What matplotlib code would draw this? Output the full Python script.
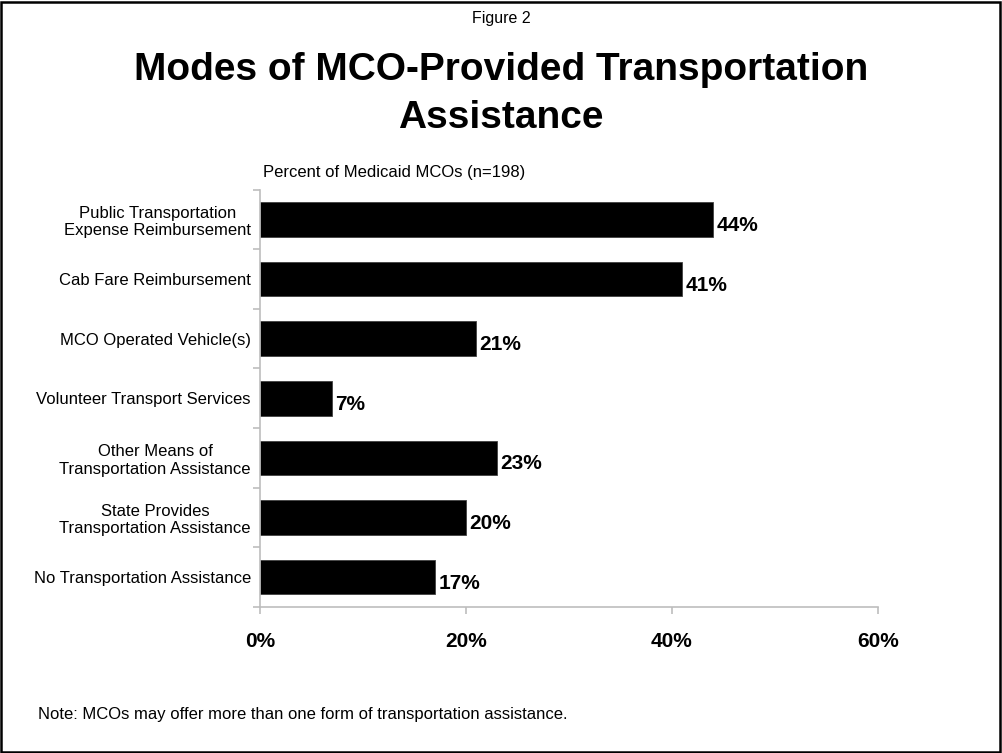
import matplotlib
matplotlib.use("Agg")
import matplotlib.pyplot as plt
from matplotlib.patches import Rectangle
import numpy as np

plt.rcParams['font.family'] = ['Liberation Sans', 'DejaVu Sans']

categories = [
    "Public Transportation\nExpense Reimbursement",
    "Cab Fare Reimbursement",
    "MCO Operated Vehicle(s)",
    "Volunteer Transport Services",
    "Other Means of\nTransportation Assistance",
    "State Provides\nTransportation Assistance",
    "No Transportation Assistance",
]
values = [44, 41, 21, 7, 23, 20, 17]
xticks = [0, 20, 40, 60]
xtick_labels = ["0%", "20%", "40%", "60%"]

fig = plt.figure(figsize=(10.02, 7.53), dpi=100)
ax = fig.add_axes([0.2595, 0.1939, 0.8762 - 0.2595, 0.7482 - 0.1939])

n = len(categories)
y = np.arange(n)
ax.barh(y, values, height=0.58, color="black", edgecolor="#404040", linewidth=0.6)
ax.set_ylim(n - 0.5, -0.5)
ax.set_xlim(0, 60)

for yi, v in zip(y, values):
    ax.text(v + 0.3, yi + 0.1, f"{v}%", va="center", ha="left",
            fontsize=15, fontweight="bold", color="black")

spine_col = "#bdbdbd"
for s in ["top", "right"]:
    ax.spines[s].set_visible(False)
for s in ["left", "bottom"]:
    ax.spines[s].set_color(spine_col)
    ax.spines[s].set_linewidth(1.2)

# category labels centred on bars, tick marks on category boundaries
ax.set_yticks(y)
ax.set_yticklabels(categories, fontsize=12, ha="right", multialignment="center")
ax.tick_params(axis="y", length=0, pad=6.5)
ax.set_yticks(np.arange(-0.5, n + 0.5, 1), minor=True)
ax.tick_params(axis="y", which="minor", length=5, color=spine_col, width=1.2, direction="out")

ax.set_xticks(xticks)
ax.set_xticklabels(xtick_labels, fontsize=15, fontweight="bold")
ax.tick_params(axis="x", length=5, color=spine_col, width=1.2, direction="out", pad=13)

fig.text(0.5, 1 - 18 / 753, "Figure 2", ha="center", va="center", fontsize=11.5)
fig.text(0.5, 1 - 94 / 753, "Modes of MCO-Provided Transportation\nAssistance",
         ha="center", va="center", fontsize=28, fontweight="bold", linespacing=1.4)
fig.text(263 / 1002, 1 - 172 / 753, "Percent of Medicaid MCOs (n=198)",
         ha="left", va="center", fontsize=12)
fig.text(38 / 1002, 1 - 714 / 753,
         "Note: MCOs may offer more than one form of transportation assistance.",
         ha="left", va="center", fontsize=12)

fig.patches.append(Rectangle((0.001, 0.0015), 0.997, 0.996, transform=fig.transFigure,
                             fill=False, edgecolor="black", linewidth=1.8))

fig.savefig("out.png", dpi=100)
